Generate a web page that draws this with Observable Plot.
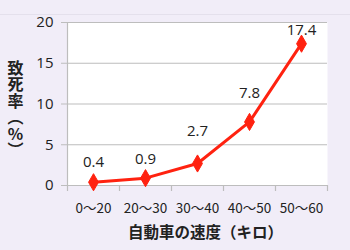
<!DOCTYPE html>
<html><head><meta charset="utf-8">
<script src="https://cdn.jsdelivr.net/npm/d3@7"></script>
<script src="https://cdn.jsdelivr.net/npm/@observablehq/plot@0.6"></script>
<style>
html,body{margin:0;padding:0;background:#f1edf8;}
#chart{position:relative;width:350px;height:250px;background:#f1edf8;}
#band{position:absolute;left:0;top:0;width:350px;height:14px;border-bottom:1px solid #e4e0ec;}
</style>
</head><body>
<div id="chart"><div id="band"></div></div>
<script>
const categories = ["0～20", "20～30", "30～40", "40～50", "50～60"];
const values = [0.4, 0.9, 2.7, 7.8, 17.4];
const labels = ["0.4", "0.9", "2.7", "7.8", "17.4"];
const yTicks = [0, 5, 10, 15, 20];
const yTitle = "致死率（%）";
const xTitle = "自動車の速度（キロ）";

const data = categories.map((c, i) => ({cat: c, v: values[i], label: labels[i]}));
const W = 350, H = 250, ml = 67, mr = 23, mt = 22, mb = 65;
const half = (W - ml - mr) / categories.length / 2;
const labelDy = [-20, -19, -32, -29, -14];
const grid = "#bdbdbd";

const chart = Plot.plot({
  width: W, height: H,
  marginLeft: ml, marginRight: mr, marginTop: mt, marginBottom: mb,
  style: {background: "transparent", fontFamily: "'Open Sans','Noto Sans CJK JP',sans-serif", color: "#222"},
  x: {type: "band", domain: categories, padding: 0, axis: null},
  y: {domain: [0, 20], axis: null},
  marks: [
    Plot.frame({fill: "white", stroke: null}),
    Plot.ruleY(yTicks, {stroke: grid, strokeWidth: 1.2}),
    Plot.ruleX([categories[0]], {x: d => d, dx: -half, stroke: grid, strokeWidth: 1.2}),
    Plot.axisY({ticks: yTicks, tickSize: 6, tickPadding: 8, stroke: grid, fontSize: 15, fill: "#222", label: null}),
    Plot.axisX({domain: categories, tickSize: 0, tickPadding: 18, fontSize: 13.5, fill: "#222", label: null, fontFamily: "'Noto Sans CJK JP',sans-serif"}),
    Plot.ruleX(categories, {x: d => d, y1: 0, y2: 0, dx: -half, insetBottom: -6, stroke: grid, strokeWidth: 1.2}),
    Plot.ruleX([categories[categories.length - 1]], {x: d => d, y1: 0, y2: 0, dx: half, insetBottom: -6, stroke: grid, strokeWidth: 1.2}),
    Plot.line(data, {x: "cat", y: "v", stroke: "#ff2210", strokeWidth: 3}),
    Plot.dot(data, {x: "cat", y: "v", symbol: "diamond", r: 5.2, fill: "#ff2210", stroke: "#ff2210", strokeWidth: 1}),
    ...data.map((d, i) => Plot.text([d], {x: "cat", y: "v", text: "label", dy: labelDy[i], fontSize: 15, fill: "#222"})),
    Plot.text([yTitle], {frameAnchor: "left", dx: -52, text: d => d, fontSize: 16, fontWeight: "bold", fill: "#222", fontFamily: "'Noto Sans CJK JP',sans-serif", className: "ytitle"}),
    Plot.text([xTitle], {frameAnchor: "bottom", dx: 8, dy: 52, text: d => d, fontSize: 15.5, fontWeight: "bold", fill: "#222", fontFamily: "'Noto Sans CJK JP',sans-serif"})
  ]
});
document.getElementById("chart").appendChild(chart);
chart.style.position = "absolute"; chart.style.left = "0"; chart.style.top = "0";
d3.select(chart).selectAll(".ytitle text")
  .style("writing-mode", "vertical-rl")
  .style("text-orientation", "upright")
  .style("letter-spacing", "0.5px")
  .attr("text-anchor", "middle")
  .attr("dy", null);
</script>
</body></html>
